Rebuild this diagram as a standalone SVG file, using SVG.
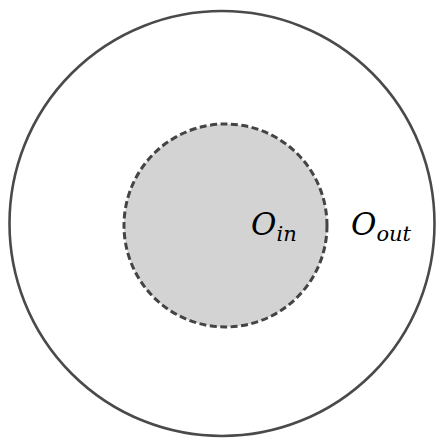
<svg xmlns="http://www.w3.org/2000/svg" width="436" height="439" viewBox="0 0 436 439">
<style>
.lbl{font-family:"DejaVu Serif","Liberation Serif",serif;font-style:italic;fill:#000}
.main{font-size:31px}
.sub{font-size:21px}
</style>
<rect width="436" height="439" fill="#fff"/>
<g id="outer">
<circle cx="222" cy="223.5" r="212.5" fill="none" stroke="#4a4a4a" stroke-width="2.6"/>
</g>
<g id="inner">
<circle cx="225.5" cy="225.5" r="101.5" fill="#d3d3d3" stroke="#444" stroke-width="3" stroke-dasharray="7 3.5"/>
</g>
<g id="label-in">
<text class="lbl main" x="251" y="235">O<tspan class="sub" dy="6">in</tspan></text>
</g>
<g id="label-out">
<text class="lbl main" x="351" y="235">O<tspan class="sub" dy="6">out</tspan></text>
</g>
<g id="connectors"></g>
</svg>
